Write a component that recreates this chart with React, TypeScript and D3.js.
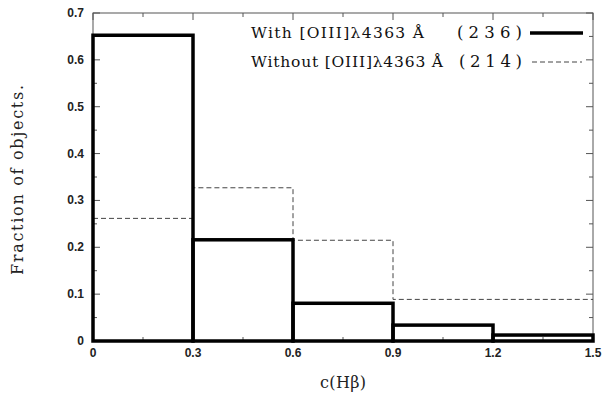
import React from "react";
import * as d3 from "d3";

// Bin edges in c(Hβ)
const binEdges = [0, 0.3, 0.6, 0.9, 1.2, 1.5];
// Fraction of objects per bin
const withOIII = [0.6525, 0.216, 0.0805, 0.0339, 0.0127];
const withoutOIII = [0.2617, 0.327, 0.215, 0.0888, 0.0888];
const xTicks = [0, 0.3, 0.6, 0.9, 1.2, 1.5];
const xMinorTicks = [0.15, 0.45, 0.75, 1.05, 1.35];
const yTicks = [0, 0.1, 0.2, 0.3, 0.4, 0.5, 0.6, 0.7];
const yMinorTicks = [0.05, 0.15, 0.25, 0.35, 0.45, 0.55, 0.65];
const legendLabels = ["With [OIII]λ4363 Å", "Without [OIII]λ4363 Å"];
const legendCounts = ["(236)", "(214)"];

const W = 605;
const H = 394;
const M = { left: 93, right: 12, top: 13, bottom: 53 };

export default function App() {
  const x = d3.scaleLinear().domain([0, 1.5]).range([M.left, W - M.right]);
  const y = d3.scaleLinear().domain([0, 0.7]).range([H - M.bottom, M.top]);
  const fmt = (v: number) => (v === 0 ? "0" : d3.format(".1f")(v));

  // Step outline for the dashed series
  const stepPts: [number, number][] = [];
  withoutOIII.forEach((v, i) => {
    stepPts.push([binEdges[i], v]);
    stepPts.push([binEdges[i + 1], v]);
  });
  const stepLine = d3
    .line<[number, number]>()
    .x((d) => x(d[0]))
    .y((d) => y(d[1]));

  const frame = "#555";
  const serif = "'DejaVu Serif', 'Liberation Serif', serif";
  const sans = "'Liberation Sans', Arial, sans-serif";

  return (
    <svg
      width={W}
      height={H}
      style={{ position: "absolute", left: 0, top: 0, background: "#fff" }}
    >
      {/* frame */}
      <rect
        x={x(0)}
        y={y(0.7)}
        width={x(1.5) - x(0)}
        height={y(0) - y(0.7)}
        fill="none"
        stroke={frame}
        strokeWidth={1}
      />
      {/* ticks, pointing inward on all four sides */}
      <g stroke={frame} strokeWidth={1}>
        {xTicks.map((t) => (
          <g key={"xt" + t}>
            <line x1={x(t)} x2={x(t)} y1={y(0)} y2={y(0) - 7} />
            <line x1={x(t)} x2={x(t)} y1={y(0.7)} y2={y(0.7) + 7} />
          </g>
        ))}
        {xMinorTicks.map((t) => (
          <g key={"xm" + t}>
            <line x1={x(t)} x2={x(t)} y1={y(0)} y2={y(0) - 4} />
            <line x1={x(t)} x2={x(t)} y1={y(0.7)} y2={y(0.7) + 4} />
          </g>
        ))}
        {yTicks.map((t) => (
          <g key={"yt" + t}>
            <line x1={x(0)} x2={x(0) + 7} y1={y(t)} y2={y(t)} />
            <line x1={x(1.5)} x2={x(1.5) - 7} y1={y(t)} y2={y(t)} />
          </g>
        ))}
        {yMinorTicks.map((t) => (
          <g key={"ym" + t}>
            <line x1={x(0)} x2={x(0) + 4} y1={y(t)} y2={y(t)} />
            <line x1={x(1.5)} x2={x(1.5) - 4} y1={y(t)} y2={y(t)} />
          </g>
        ))}
      </g>

      {/* dashed histogram */}
      <path
        d={stepLine(stepPts) || ""}
        fill="none"
        stroke="#444"
        strokeWidth={1}
        strokeDasharray="5,3"
      />

      {/* solid histogram: outlined bars */}
      <g fill="none" stroke="#000" strokeWidth={3.5}>
        {withOIII.map((v, i) => (
          <rect
            key={"b" + i}
            x={x(binEdges[i])}
            y={y(v)}
            width={x(binEdges[i + 1]) - x(binEdges[i])}
            height={y(0) - y(v)}
          />
        ))}
      </g>

      {/* tick labels */}
      <g fontFamily={sans} fontSize={12} fontWeight="bold" fill="#222">
        {xTicks.map((t) => (
          <text key={"xl" + t} x={x(t)} y={y(0) + 16} textAnchor="middle">
            {fmt(t)}
          </text>
        ))}
        {yTicks.map((t) => (
          <text key={"yl" + t} x={x(0) - 9} y={y(t) + 4} textAnchor="end">
            {fmt(t)}
          </text>
        ))}
      </g>

      {/* axis titles */}
      <text
        x={343}
        y={388}
        textAnchor="middle"
        fontFamily={serif}
        fontSize={16}
        fill="#222"
        textLength={46}
        lengthAdjust="spacing"
      >
        c(Hβ)
      </text>
      <text
        transform={`translate(23, 180) rotate(-90)`}
        textAnchor="middle"
        fontFamily={serif}
        fontSize={16}
        fill="#222"
        textLength={190}
        lengthAdjust="spacing"
      >
        Fraction of objects.
      </text>

      {/* legend */}
      <g fontFamily={serif} fontSize={15.5} fill="#111">
        <text x={251} y={38} textLength={173} lengthAdjust="spacing">
          {legendLabels[0]}
        </text>
        <text x={457} y={38} fontSize={16.5} textLength={65} lengthAdjust="spacing">
          {legendCounts[0]}
        </text>
        <line x1={530} x2={583} y1={33} y2={33} stroke="#000" strokeWidth={3.5} />
        <text x={251} y={67} textLength={192} lengthAdjust="spacing">
          {legendLabels[1]}
        </text>
        <text x={459} y={67} fontSize={16.5} textLength={63} lengthAdjust="spacing">
          {legendCounts[1]}
        </text>
        <line
          x1={532}
          x2={582}
          y1={62}
          y2={62}
          stroke="#444"
          strokeWidth={1}
          strokeDasharray="5,3"
        />
      </g>
    </svg>
  );
}
